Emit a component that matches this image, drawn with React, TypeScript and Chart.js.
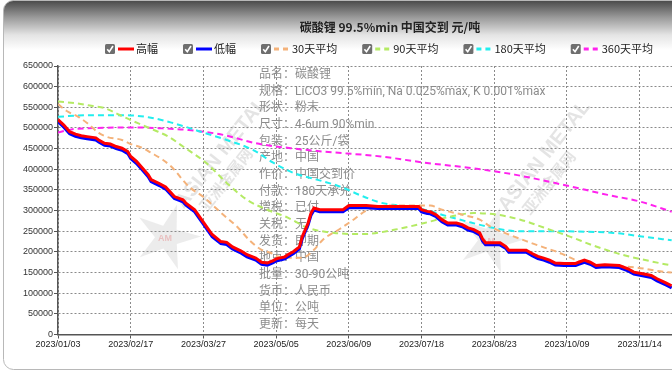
import React, { useEffect, useRef } from 'react';
import { Chart, registerables } from 'chart.js';

Chart.register(...registerables);

const titleText = '碳酸锂 99.5%min 中国交到 元/吨';

const tickIdx = [0, 25, 50, 75, 100, 125, 150, 175, 200];
const tickLabels = ['2023/01/03', '2023/02/17', '2023/03/27', '2023/05/05', '2023/06/09', '2023/07/18', '2023/08/23', '2023/10/09', '2023/11/14'];

const seriesNames = ['高幅', '低幅', '30天平均', '90天平均', '180天平均', '360天平均'];
const seriesColors = ['#ff0000', '#0000ff', '#f4b27a', '#b4ea64', '#22eeee', '#ff22ee'];

// trading-day index of each price change point
const priceDays = [0, 2, 4, 6, 8, 10, 13, 14, 16, 18, 20, 22, 24, 25, 27, 29, 31, 32, 35, 37, 39, 40, 43, 44, 47, 49, 51, 53, 56, 58, 60, 63, 65, 68, 70, 72, 74, 75, 78, 79, 81, 83, 84, 86, 87, 88, 90, 98, 100, 106, 110, 124, 125, 127, 128, 130, 132, 134, 137, 139, 141, 143, 145, 146, 147, 152, 154, 155, 161, 163, 165, 167, 169, 171, 174, 178, 179, 181, 183, 185, 188, 193, 196, 198, 201, 204, 206, 209, 211];
const highPrices = [520000, 507000, 491000, 485000, 481000, 479000, 476000, 471000, 463000, 461000, 455000, 451000, 443000, 431000, 419000, 403000, 387000, 375000, 365000, 357000, 342000, 334000, 326000, 318000, 302000, 282000, 262000, 242000, 225000, 223000, 212000, 202000, 193000, 185000, 175000, 173000, 179000, 183000, 188000, 193000, 201000, 212000, 237000, 270000, 294000, 306000, 302000, 302000, 312000, 312000, 310000, 310000, 302000, 298000, 297000, 290000, 278000, 270000, 270000, 266000, 258000, 254000, 246000, 231000, 222000, 222000, 213000, 204000, 204000, 196000, 189000, 185000, 180000, 173000, 172000, 172000, 175000, 180000, 175000, 167000, 169000, 167000, 159000, 151000, 147000, 143000, 135000, 125000, 118000];
const lowPrices = [515000, 502000, 486000, 480000, 476000, 474000, 471000, 466000, 458000, 456000, 450000, 446000, 438000, 426000, 414000, 398000, 382000, 370000, 360000, 352000, 337000, 329000, 321000, 313000, 297000, 277000, 257000, 237000, 220000, 218000, 207000, 197000, 188000, 180000, 170000, 168000, 174000, 178000, 183000, 188000, 196000, 207000, 232000, 265000, 289000, 301000, 297000, 297000, 307000, 307000, 305000, 305000, 297000, 293000, 292000, 285000, 273000, 265000, 265000, 261000, 253000, 249000, 241000, 226000, 217000, 217000, 208000, 199000, 199000, 191000, 184000, 180000, 175000, 168000, 167000, 167000, 170000, 175000, 170000, 162000, 164000, 162000, 154000, 146000, 142000, 138000, 130000, 120000, 113000];

const ma30Days = [0, 3, 7, 10, 14, 17, 22, 25, 29, 32, 36, 39, 45, 50, 56, 62, 66, 70, 73, 76, 80, 84, 88, 91, 97, 101, 106, 110, 114, 124, 128, 132, 139, 145, 149, 155, 161, 167, 172, 174, 180, 185, 192, 199, 207, 211];
const ma30 = [558000, 541000, 527000, 512000, 488000, 478000, 471000, 461000, 452000, 440000, 423000, 406000, 358000, 333000, 295000, 258000, 227000, 205000, 198000, 188000, 186000, 186000, 205000, 229000, 256000, 275000, 300000, 309000, 312000, 312000, 312000, 302000, 290000, 278000, 260000, 242000, 226000, 211000, 199000, 193000, 175000, 169000, 166000, 162000, 153000, 150000];

const ma90Days = [0, 6, 12, 16, 21, 25, 29, 33, 38, 43, 51, 58, 65, 72, 79, 86, 95, 105, 116, 126, 134, 143, 151, 159, 167, 176, 185, 194, 204, 211];
const ma90 = [564000, 560000, 553000, 548000, 532000, 519000, 507000, 495000, 479000, 455000, 415000, 367000, 326000, 302000, 283000, 258000, 246000, 243000, 254000, 270000, 284000, 294000, 290000, 278000, 259000, 237000, 213000, 193000, 177000, 167000];

const ma180Days = [0, 10, 22, 31, 39, 49, 58, 67, 74, 81, 89, 97, 105, 111, 117, 126, 134, 142, 149, 158, 169, 181, 191, 200, 211];
const ma180 = [527000, 531000, 531000, 526000, 513000, 491000, 471000, 447000, 416000, 391000, 375000, 358000, 334000, 319000, 312000, 302000, 286000, 271000, 259000, 250000, 250000, 249000, 246000, 238000, 228000];

const ma360Days = [0, 5, 10, 22, 29, 36, 45, 57, 68, 80, 91, 111, 126, 142, 157, 174, 189, 200, 209, 211];
const ma360 = [489000, 497000, 499000, 501000, 501000, 499000, 495000, 483000, 463000, 451000, 443000, 431000, 416000, 403000, 387000, 362000, 338000, 322000, 302000, 297000];

const infoLabels = ['品名', '规格', '形状', '尺寸', '包装', '产地', '作价', '付款', '增税', '关税', '发货', '地点', '批量', '货币', '单位', '更新'];
const infoValues = ['碳酸锂', 'LiCO3 99.5%min, Na 0.025%max, K 0.001%max', '粉末', '4-6um 90%min', '25公斤/袋', '中国', '中国交到价', '180天承兑', '已付', '无', '即期', '中国', '30-90公吨', '人民币', '公吨', '每天'];

const pts = (xs: number[], ys: number[]) => xs.map((x, i) => ({ x, y: ys[i] }));

const CJK = '"Noto Sans CJK SC", "Noto Sans", sans-serif';
const INFO = 'Roboto, "Noto Sans CJK SC", sans-serif';
const LAT = '"Liberation Sans", Arial, sans-serif';

function roundRectPath(ctx: CanvasRenderingContext2D, x: number, y: number, w: number, h: number, r: number) {
  ctx.beginPath();
  ctx.moveTo(x + r, y);
  ctx.lineTo(x + w - r, y);
  ctx.arcTo(x + w, y, x + w, y + r, r);
  ctx.lineTo(x + w, y + h - r);
  ctx.arcTo(x + w, y + h, x + w - r, y + h, r);
  ctx.lineTo(x + r, y + h);
  ctx.arcTo(x, y + h, x, y + h - r, r);
  ctx.lineTo(x, y + r);
  ctx.arcTo(x, y, x + r, y, r);
  ctx.closePath();
}

function drawMark(ctx: CanvasRenderingContext2D, cx: number, cy: number) {
  ctx.save();
  ctx.translate(cx, cy);
  ctx.beginPath();
  for (let k = 0; k < 10; k++) {
    const r = k % 2 === 0 ? 34 : 12;
    const a = -Math.PI / 2 + (k * Math.PI) / 5 + 0.3;
    const px = r * Math.cos(a);
    const py = r * Math.sin(a);
    if (k === 0) ctx.moveTo(px, py);
    else ctx.lineTo(px, py);
  }
  ctx.closePath();
  ctx.fillStyle = 'rgba(200,200,200,0.35)';
  ctx.fill();
  ctx.fillStyle = 'rgba(225,90,90,0.3)';
  ctx.font = 'bold 9px ' + LAT;
  ctx.textAlign = 'center';
  ctx.textBaseline = 'middle';
  ctx.fillText('AM', -2, 2);
  ctx.rotate(-0.9);
  ctx.textAlign = 'left';
  ctx.textBaseline = 'alphabetic';
  ctx.fillStyle = 'rgba(185,185,185,0.38)';
  ctx.font = 'bold 20px ' + LAT;
  ctx.fillText('ASIAN METAL', 32, -4);
  ctx.font = 'bold 15px ' + CJK;
  ctx.fillText('亚洲金属网', 44, 16);
  ctx.restore();
}

const decorPlugin = {
  id: 'decor',
  beforeDraw(chart: any) {
    const ctx: CanvasRenderingContext2D = chart.ctx;
    const W = chart.width;
    const H = chart.height;
    ctx.save();
    const g = ctx.createLinearGradient(0, 0, 0, 50);
    g.addColorStop(0, '#474747');
    g.addColorStop(0.35, '#9a9a9a');
    g.addColorStop(0.7, '#e4e4e4');
    g.addColorStop(1, '#ffffff');
    roundRectPath(ctx, 3.5, 0.5, W - 7, H - 5, 10);
    ctx.fillStyle = g;
    ctx.fill();
    ctx.strokeStyle = '#b8b8b8';
    ctx.lineWidth = 1;
    ctx.stroke();

    drawMark(ctx, 167, 237);
    drawMark(ctx, 490, 240);

    ctx.font = '12px ' + INFO;
    ctx.fillStyle = '#8c8c8c';
    ctx.textBaseline = 'middle';
    ctx.textAlign = 'left';
    infoLabels.forEach((l, i) => {
      ctx.fillText(l + '：' + infoValues[i], 259, 75 + i * 16.67);
    });

    ctx.font = 'bold 12px ' + CJK;
    ctx.fillStyle = '#222';
    ctx.textAlign = 'center';
    ctx.fillText(titleText, W / 2, 27);

    const ly = 49;
    let x = 105;
    ctx.textAlign = 'left';
    ctx.font = '11px ' + CJK;
    seriesNames.forEach((name, i) => {
      roundRectPath(ctx, x, ly - 5, 10, 10, 1.5);
      ctx.fillStyle = '#6e6e6e';
      ctx.fill();
      ctx.beginPath();
      ctx.moveTo(x + 2.2, ly + 0.2);
      ctx.lineTo(x + 4.3, ly + 2.7);
      ctx.lineTo(x + 8, ly - 3);
      ctx.strokeStyle = '#fff';
      ctx.lineWidth = 1.6;
      ctx.setLineDash([]);
      ctx.stroke();
      const lx = x + 13;
      ctx.beginPath();
      ctx.moveTo(lx, ly);
      ctx.lineTo(lx + 16, ly);
      ctx.strokeStyle = seriesColors[i];
      ctx.lineWidth = 3;
      ctx.setLineDash(i >= 2 ? [5, 4] : []);
      ctx.stroke();
      ctx.setLineDash([]);
      ctx.fillStyle = '#222';
      ctx.fillText(name, lx + 18, ly);
      x = lx + 18 + ctx.measureText(name).width + 25;
    });
    ctx.restore();
  },
};

export default function App() {
  const ref = useRef<HTMLCanvasElement | null>(null);

  useEffect(() => {
    document.body.style.margin = '0';
    document.body.style.overflow = 'hidden';
    const canvas = ref.current;
    if (!canvas) return;
    const solid = (i: number, data: any[]) => ({
      label: seriesNames[i],
      data,
      borderColor: seriesColors[i],
      backgroundColor: seriesColors[i],
      borderWidth: 3,
      pointRadius: 0,
      tension: 0,
      fill: false,
    });
    const dashed = (i: number, data: any[]) => ({
      label: seriesNames[i],
      data,
      borderColor: seriesColors[i],
      backgroundColor: seriesColors[i],
      borderWidth: 2,
      borderDash: [6, 4],
      pointRadius: 0,
      cubicInterpolationMode: 'monotone',
      fill: false,
    });
    const tickFont = { family: LAT, size: 9 };
    const chart = new Chart(canvas, {
      type: 'line',
      data: {
        datasets: [
          solid(0, pts(priceDays, highPrices)),
          solid(1, pts(priceDays, lowPrices)),
          dashed(2, pts(ma30Days, ma30)),
          dashed(3, pts(ma90Days, ma90)),
          dashed(4, pts(ma180Days, ma180)),
          dashed(5, pts(ma360Days, ma360)),
        ] as any,
      },
      options: {
        responsive: false,
        animation: false,
        devicePixelRatio: 1,
        layout: { padding: { top: 66, left: 0, right: 24, bottom: 0 } },
        plugins: {
          legend: { display: false },
          title: { display: false },
          tooltip: { enabled: false },
        },
        scales: {
          x: {
            type: 'linear',
            min: 0,
            max: 240,
            afterBuildTicks: (s: any) => {
              s.ticks = tickIdx.map((v) => ({ value: v }));
            },
            afterFit: (s: any) => {
              s.height = 39.5;
            },
            ticks: {
              autoSkip: false,
              maxRotation: 0,
              padding: 1,
              font: tickFont,
              color: '#222',
              callback: (v: any) => {
                const k = tickIdx.indexOf(Number(v));
                return k >= 0 ? tickLabels[k] : '';
              },
            },
            grid: { color: '#8a8a8a', lineWidth: 1, tickLength: 4, tickColor: '#555', tickWidth: 1 },
            border: { color: '#555', width: 1.5, dash: [2, 2] },
          },
          y: {
            min: 0,
            max: 650000,
            afterFit: (s: any) => {
              s.width = 58;
            },
            ticks: {
              stepSize: 50000,
              padding: 1,
              font: tickFont,
              color: '#333',
              callback: (v: any) => String(v),
            },
            grid: { color: '#8a8a8a', lineWidth: 1, tickLength: 4, tickColor: '#555', tickWidth: 1 },
            border: { color: '#555', width: 1.5, dash: [2, 2] },
          },
        },
      } as any,
      plugins: [decorPlugin],
    });
    return () => chart.destroy();
  }, []);

  return (
    <div style={{ width: 672, height: 374, overflow: 'hidden', position: 'relative' }}>
      <div style={{ width: 780, height: 374 }}>
        <canvas ref={ref} width={780} height={374} style={{ display: 'block', width: 780, height: 374 }} />
      </div>
    </div>
  );
}
